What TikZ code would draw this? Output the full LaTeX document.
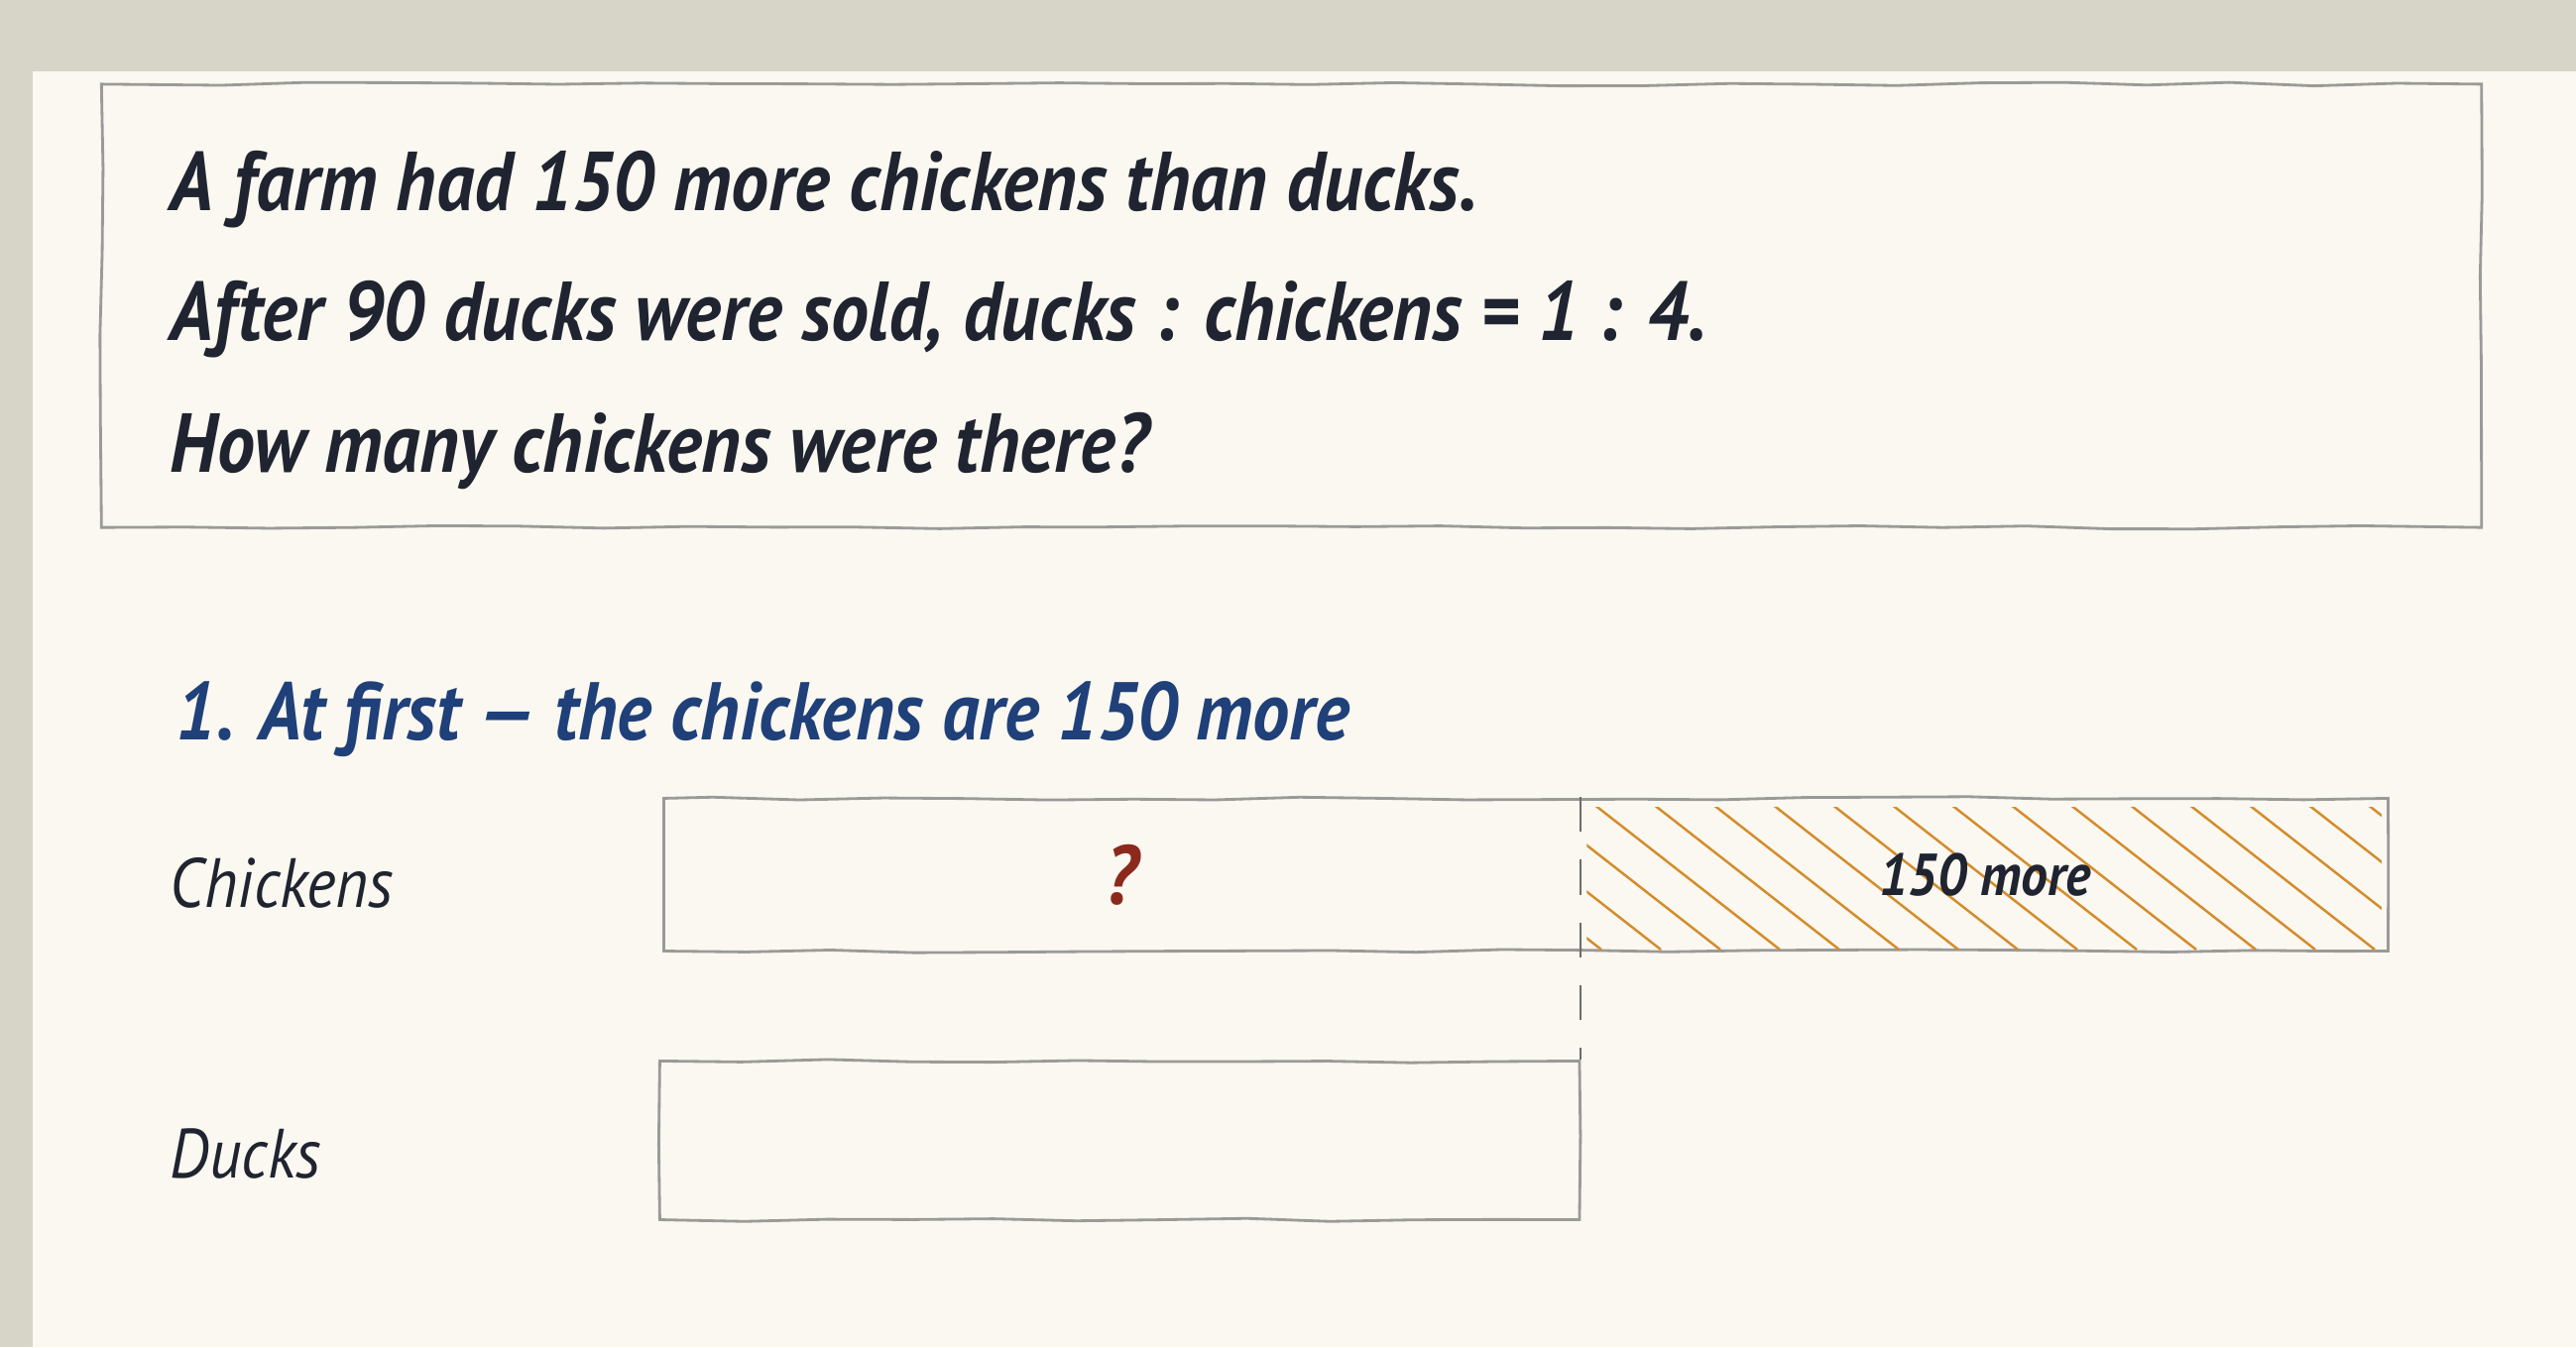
\documentclass[tikz,border=0pt]{standalone}
\usepackage{xcolor}
\usepackage{fontspec}
\usepackage{tikz}
\usetikzlibrary{positioning,calc,decorations.pathmorphing}
\newfontfamily\handfont[FakeStretch=0.9]{PT Sans}
\definecolor{desk}{HTML}{D7D4C8}
\definecolor{paper}{HTML}{FAF8F0}
\definecolor{ink}{HTML}{1F2430}
\definecolor{headblue}{HTML}{1F4079}
\definecolor{askred}{HTML}{8B2A1C}
\definecolor{hatchorange}{HTML}{D48C2C}
\definecolor{pencil}{HTML}{9A9A9A}
\tikzstyle{sketch} = [draw=pencil, line width=0.8pt, decorate,
    decoration={random steps, segment length=24pt, amplitude=0.5pt}]
\tikzstyle{bar} = [sketch, rectangle, inner sep=0pt]
\tikzstyle{prob} = [anchor=base west, inner sep=0pt, text=ink,
    font=\handfont\bfseries\itshape\fontsize{24}{28}\selectfont]
\tikzstyle{head} = [prob, text=headblue, font=\handfont\bfseries\itshape\fontsize{23.5}{28}\selectfont]
\tikzstyle{lbl} = [prob, font=\handfont\itshape\fontsize{20}{24}\selectfont]
\tikzstyle{divider} = [draw=pencil!70!black, line width=0.6pt, dash pattern=on 10pt off 8pt]
\tikzstyle{hatch} = [draw=hatchorange, line width=0.7pt]

\begin{document}
\pgfmathsetseed{7}
\begin{tikzpicture}[x=0.01cm,y=-0.01cm]
        % Page
        \fill [desk] (0,0) rectangle (2598,1359);
        \fill [paper] (33,72) rectangle (2598,1359);
        \useasboundingbox (0,0) rectangle (2598,1359);

        % Problem
        \node [sketch, minimum width=23.99cm, minimum height=4.47cm] (probbox) at (1302.5,308.5) {};
        \node [prob] (line1) at (171,212) {A farm had 150 more chickens than ducks.};
        \node [prob] (line2) at (171,343) {After 90 ducks were sold, ducks : chickens = 1 : 4.};
        \node [prob] (line3) at (171,476) {How many chickens were there?};

        % Step 1
        \node [head] (step1) at (177,746) {1. At first — the chickens are 150 more};
        \node [lbl] (chklbl) at (171,915) {Chickens};
        \node [lbl] (dcklbl) at (171,1188) {Ducks};

        % Bars
        \node [bar, minimum width=17.38cm, minimum height=1.54cm, anchor=north west] (chkbar) at (668,804) {};
        \node [bar, minimum width=9.27cm, minimum height=1.6cm, anchor=north west] (ducks) at (664,1069) {};

        % Extra part
        \begin{scope}
            \clip ($(chkbar.north -| ducks.east)+(6,10)$) rectangle ($(chkbar.south east)+(-8,12)$);
            \foreach \x in {1340,1400,...,2400}
                \draw [hatch] (\x,790) -- ++(215,168);
        \end{scope}
        \path [divider] (chkbar.north -| ducks.east) -- (ducks.north east);

        % Labels
        \node [prob, anchor=center, text=askred] (ask) at ($(chkbar.west)!0.5!(chkbar.center -| ducks.east)$) {?};
        \node [prob, anchor=center, font=\handfont\bfseries\itshape\fontsize{17}{20}\selectfont] (more)
            at ($(chkbar.center -| ducks.east)!0.5!(chkbar.east)$) {150 more};
    \end{tikzpicture}
\end{document}
